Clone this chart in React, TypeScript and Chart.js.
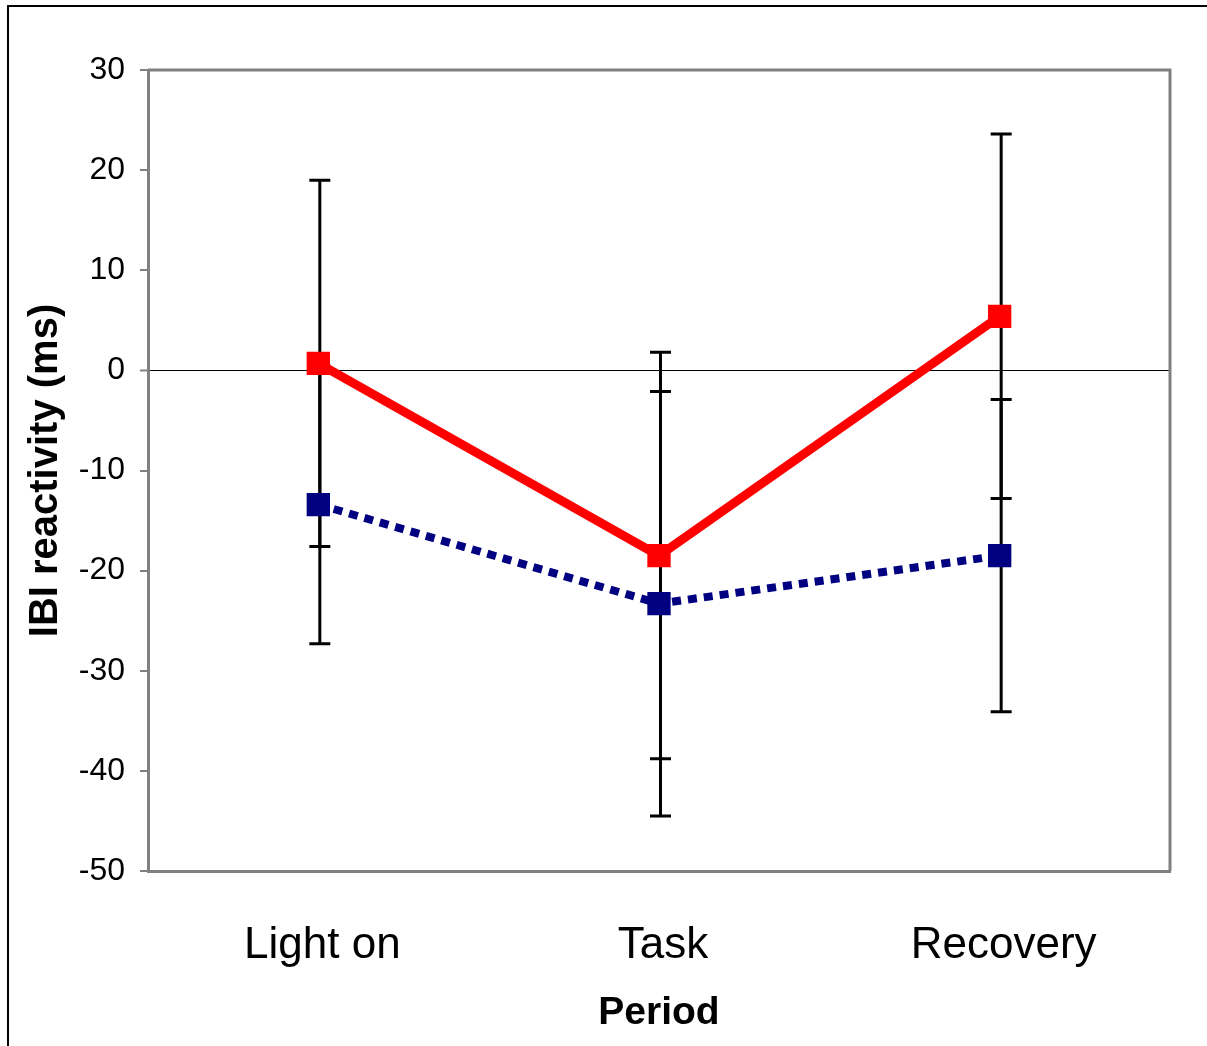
import React, { useEffect, useRef } from "react";
import { Chart, registerables } from "chart.js";

Chart.register(...registerables);

// Periods on the x axis
const periods = ["Light on", "Task", "Recovery"];

// Group means (ms) and their error-bar half widths
const redMeans = [0.7, -18.5, 5.4];
const redErrors = [18.3, 20.3, 18.2];
const blueMeans = [-13.4, -23.3, -18.5];
const blueErrors = [13.9, 21.2, 15.6];

// Y axis range and step
const yMin = -50;
const yMax = 30;
const yStep = 10;

const errorLists = [redErrors, blueErrors];

const errorBarPlugin = {
  id: "errorBars",
  beforeDatasetsDraw(chart: any) {
    const { ctx, scales } = chart;
    const y = scales.y;
    ctx.save();
    ctx.strokeStyle = "#000000";
    ctx.lineWidth = 3;
    chart.data.datasets.forEach((ds: any, di: number) => {
      const meta = chart.getDatasetMeta(di);
      const errs = errorLists[di];
      meta.data.forEach((pt: any, i: number) => {
        const v = ds.data[i];
        const e = errs[i];
        const x = pt.x + 1.5;
        const yt = y.getPixelForValue(v + e);
        const yb = y.getPixelForValue(v - e);
        ctx.beginPath();
        ctx.moveTo(x, yt);
        ctx.lineTo(x, yb);
        ctx.moveTo(x - 10.5, yt);
        ctx.lineTo(x + 10.5, yt);
        ctx.moveTo(x - 10.5, yb);
        ctx.lineTo(x + 10.5, yb);
        ctx.stroke();
      });
    });
    ctx.restore();
  },
};

const framePlugin = {
  id: "frame",
  beforeDraw(chart: any) {
    const { ctx } = chart;
    ctx.save();
    // outer frame (top and left edges)
    ctx.strokeStyle = "#000000";
    ctx.lineWidth = 2;
    ctx.beginPath();
    ctx.moveTo(8, chart.height);
    ctx.lineTo(8, 6);
    ctx.lineTo(chart.width, 6);
    ctx.stroke();
    ctx.restore();
  },
  afterDraw(chart: any) {
    const { ctx, chartArea } = chart;
    ctx.save();
    ctx.strokeStyle = "#808080";
    ctx.lineWidth = 3;
    ctx.beginPath();
    ctx.moveTo(chartArea.left, chartArea.top);
    ctx.lineTo(chartArea.right, chartArea.top);
    ctx.lineTo(chartArea.right, chartArea.bottom);
    ctx.stroke();
    ctx.restore();
  },
};

export default function App() {
  const canvasRef = useRef<HTMLCanvasElement | null>(null);

  useEffect(() => {
    const canvas = canvasRef.current;
    if (!canvas) return;
    const chart = new Chart(canvas, {
      type: "line",
      data: {
        labels: periods,
        datasets: [
          {
            data: redMeans,
            borderColor: "#ff0000",
            backgroundColor: "#ff0000",
            borderWidth: 9,
            tension: 0,
            pointStyle: "rect",
            pointRadius: 16.5,
            pointBorderWidth: 0,
            pointBackgroundColor: "#ff0000",
          },
          {
            data: blueMeans,
            borderColor: "#000080",
            backgroundColor: "#000080",
            borderWidth: 8,
            borderDash: [9, 7],
            borderCapStyle: "butt",
            tension: 0,
            pointStyle: "rect",
            pointRadius: 16.5,
            pointBorderWidth: 0,
            pointBackgroundColor: "#000080",
          },
        ],
      },
      options: {
        responsive: false,
        animation: false,
        devicePixelRatio: 1,
        layout: { padding: { top: 70, right: 37, left: 0, bottom: 0 } },
        plugins: {
          legend: { display: false },
          tooltip: { enabled: false },
        },
        scales: {
          x: {
            type: "category",
            offset: true,
            grid: { display: false, drawTicks: false },
            border: { display: true, color: "#808080", width: 3 },
            ticks: {
              color: "#000000",
              padding: 48,
              labelOffset: 4,
              font: { family: "Arial, 'Liberation Sans'", size: 44 },
            },
            title: {
              display: true,
              text: "Period",
              color: "#000000",
              padding: { top: 0, bottom: 9 },
              font: { family: "Arial, 'Liberation Sans'", size: 39, weight: "bold" },
            },
            afterFit(scale: any) {
              scale.height = 175;
            },
          },
          y: {
            min: yMin,
            max: yMax,
            grid: {
              color: (c: any) => (c.tick && c.tick.value === 0 ? "#000000" : "rgba(0,0,0,0)"),
              lineWidth: (c: any) => (c.tick && c.tick.value === 0 ? 1 : 0),
              tickColor: "#808080",
              tickLength: 8,
              tickWidth: 2,
              drawTicks: true,
            },
            border: { display: true, color: "#808080", width: 3 },
            ticks: {
              stepSize: yStep,
              color: "#000000",
              padding: 15,
              font: { family: "Arial, 'Liberation Sans'", size: 32 },
            },
            title: {
              display: true,
              text: "IBI reactivity (ms)",
              color: "#000000",
              padding: { top: 22, bottom: 0 },
              font: { family: "Arial, 'Liberation Sans'", size: 40, weight: "bold" },
            },
            afterFit(scale: any) {
              scale.width = 148;
            },
          },
        },
      },
      plugins: [errorBarPlugin, framePlugin],
    });
    return () => chart.destroy();
  }, []);

  return (
    <div style={{ position: "absolute", left: 0, top: 0, width: 1207, height: 1046, background: "#ffffff" }}>
      <canvas ref={canvasRef} width={1207} height={1046} style={{ display: "block" }} />
    </div>
  );
}
